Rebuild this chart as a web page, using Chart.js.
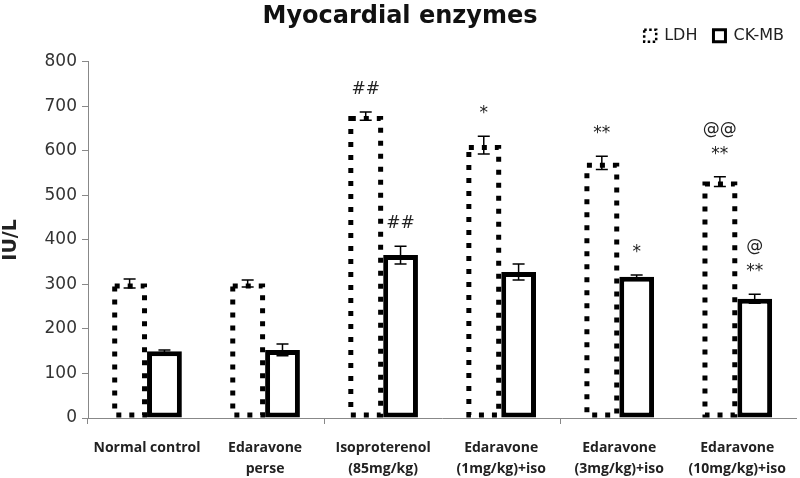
<!DOCTYPE html>
<html>
<head>
<meta charset="utf-8">
<script src="https://cdn.jsdelivr.net/npm/chart.js@4.4.1/dist/chart.umd.min.js"></script>
<style>
  html, body { margin: 0; padding: 0; background: #fff; }
  #wrap { width: 800px; height: 478px; position: relative; }
</style>
</head>
<body>
<div id="wrap"><canvas id="chart"></canvas></div>
<script>
// datos
const categories = [
    ['Normal control'],
    ['Edaravone', 'perse'],
    ['Isoproterenol', '(85mg/kg)'],
    ['Edaravone', '(1mg/kg)+iso'],
    ['Edaravone', '(3mg/kg)+iso'],
    ['Edaravone', '(10mg/kg)+iso']
];
const ldhValues = [302, 302, 678, 613, 573, 531];
const ldhErrors = [10, 8, 9, 20, 15, 11];
const ckmbValues = [150, 153, 366, 328, 317, 268];
const ckmbErrors = [3, 13, 20, 18, 4, 10];
const ldhMarks = [[], [], ['##'], ['*'], ['**'], ['@@', '**']];
const ckmbMarks = [[], [], ['##'], [], ['*'], ['@', '**']];
const yMin = 0, yMax = 800, yStep = 100;

const SANS = '"DejaVu Sans", sans-serif';
const LABEL = '"Open Sans", sans-serif';
const errors = [ldhErrors, ckmbErrors];
const marks = [ldhMarks, ckmbMarks];

// barras punteadas, barras de error y marcas de significancia
const extrasPlugin = {
    id: 'extras',
    beforeLayout(chart) {
        // un poco de aire debajo de la leyenda
        const lg = chart.legend;
        if (lg && !lg._extraSpace) {
            const fit = lg.fit.bind(lg);
            lg.fit = function () { fit(); this.height += 8; };
            lg._extraSpace = true;
        }
    },
    afterDatasetsDraw(chart) {
        const ctx = chart.ctx;
        const yScale = chart.scales.y;
        ctx.save();
        // LDH: contorno punteado
        chart.getDatasetMeta(0).data.forEach(bar => {
            const p = bar.getProps(['x', 'y', 'base', 'width'], true);
            const lw = 5;
            ctx.lineWidth = lw;
            ctx.strokeStyle = '#000';
            ctx.setLineDash([5, 8]);
            ctx.strokeRect(p.x - p.width / 2 + lw / 2, p.y + lw / 2, p.width - lw, p.base - p.y - lw);
        });
        ctx.setLineDash([]);
        // barras de error
        [0, 1].forEach(di => {
            const ds = chart.data.datasets[di];
            chart.getDatasetMeta(di).data.forEach((bar, i) => {
                const x = bar.x;
                const v = ds.data[i], e = errors[di][i];
                const yt = yScale.getPixelForValue(v + e);
                const yb = yScale.getPixelForValue(v - e);
                ctx.strokeStyle = '#000';
                ctx.lineWidth = 1.5;
                ctx.beginPath();
                ctx.moveTo(x, yt); ctx.lineTo(x, yb);
                ctx.moveTo(x - 6, yt); ctx.lineTo(x + 6, yt);
                ctx.moveTo(x - 6, yb); ctx.lineTo(x + 6, yb);
                ctx.stroke();
                // marcas
                const lines = marks[di][i];
                ctx.fillStyle = '#222';
                ctx.font = '17px ' + SANS;
                ctx.textAlign = 'center';
                ctx.textBaseline = 'bottom';
                let y = yt - 14;
                for (let k = lines.length - 1; k >= 0; k--) {
                    ctx.fillText(lines[k], x, y);
                    y -= 25;
                }
            });
        });
        ctx.restore();
    }
};

const ctx = document.getElementById('chart').getContext('2d');
const myChart = new Chart(ctx, {
    type: 'bar',
    data: {
        labels: categories,
        datasets: [
            {
                label: 'LDH',
                data: ldhValues,
                backgroundColor: '#fff',
                borderWidth: 0,
                categoryPercentage: 0.59,
                barPercentage: 1.0
            },
            {
                label: 'CK-MB',
                data: ckmbValues,
                backgroundColor: '#fff',
                borderColor: '#000',
                borderWidth: 5,
                borderSkipped: false,
                categoryPercentage: 0.59,
                barPercentage: 1.0
            }
        ]
    },
    options: {
        responsive: true,
        maintainAspectRatio: false,
        animation: false,
        layout: { padding: { top: 0, right: 0, left: 0, bottom: 0 } },
        plugins: {
            title: {
                display: true,
                text: 'Myocardial enzymes',
                color: '#111',
                font: { family: SANS, size: 24, weight: 'bold' },
                padding: { top: 2, bottom: -19 }
            },
            legend: {
                position: 'top',
                align: 'end',
                labels: {
                    color: '#222',
                    font: { family: SANS, size: 16 },
                    boxWidth: 12,
                    boxHeight: 12,
                    padding: 16,
                    generateLabels(chart) {
                        const items = Chart.defaults.plugins.legend.labels.generateLabels(chart);
                        items.forEach((it, i) => {
                            it.fillStyle = '#fff';
                            it.strokeStyle = '#000';
                            it.lineWidth = i === 0 ? 2.5 : 3;
                            it.lineDash = i === 0 ? [2.5, 2.5] : [];
                        });
                        return items;
                    }
                }
            },
            tooltip: { enabled: false }
        },
        scales: {
            x: {
                offset: true,
                afterFit(scale) { scale.height = 60; },
                grid: {
                    offset: true,
                    drawOnChartArea: false,
                    drawTicks: true,
                    tickLength: 6,
                    color: c => (c.index % 2 === 0 ? '#888' : 'rgba(0,0,0,0)')
                },
                border: { color: '#888', width: 1 },
                ticks: {
                    color: '#222',
                    font: { family: LABEL, size: 14, weight: 'bold', lineHeight: 1.5 },
                    maxRotation: 0,
                    autoSkip: false,
                    padding: 14
                }
            },
            y: {
                min: yMin,
                max: yMax,
                afterFit(scale) { scale.width = 88; },
                grid: { drawOnChartArea: false, drawTicks: true, tickLength: 6, color: '#888' },
                border: { color: '#888', width: 1 },
                ticks: {
                    stepSize: yStep,
                    color: '#333',
                    font: { family: SANS, size: 17 },
                    padding: 5
                },
                title: {
                    display: true,
                    text: 'IU/L',
                    color: '#222',
                    font: { family: SANS, size: 19, weight: 'bold' },
                    padding: { top: 0, bottom: 4 }
                }
            }
        }
    },
    plugins: [extrasPlugin]
});
</script>
</body>
</html>
